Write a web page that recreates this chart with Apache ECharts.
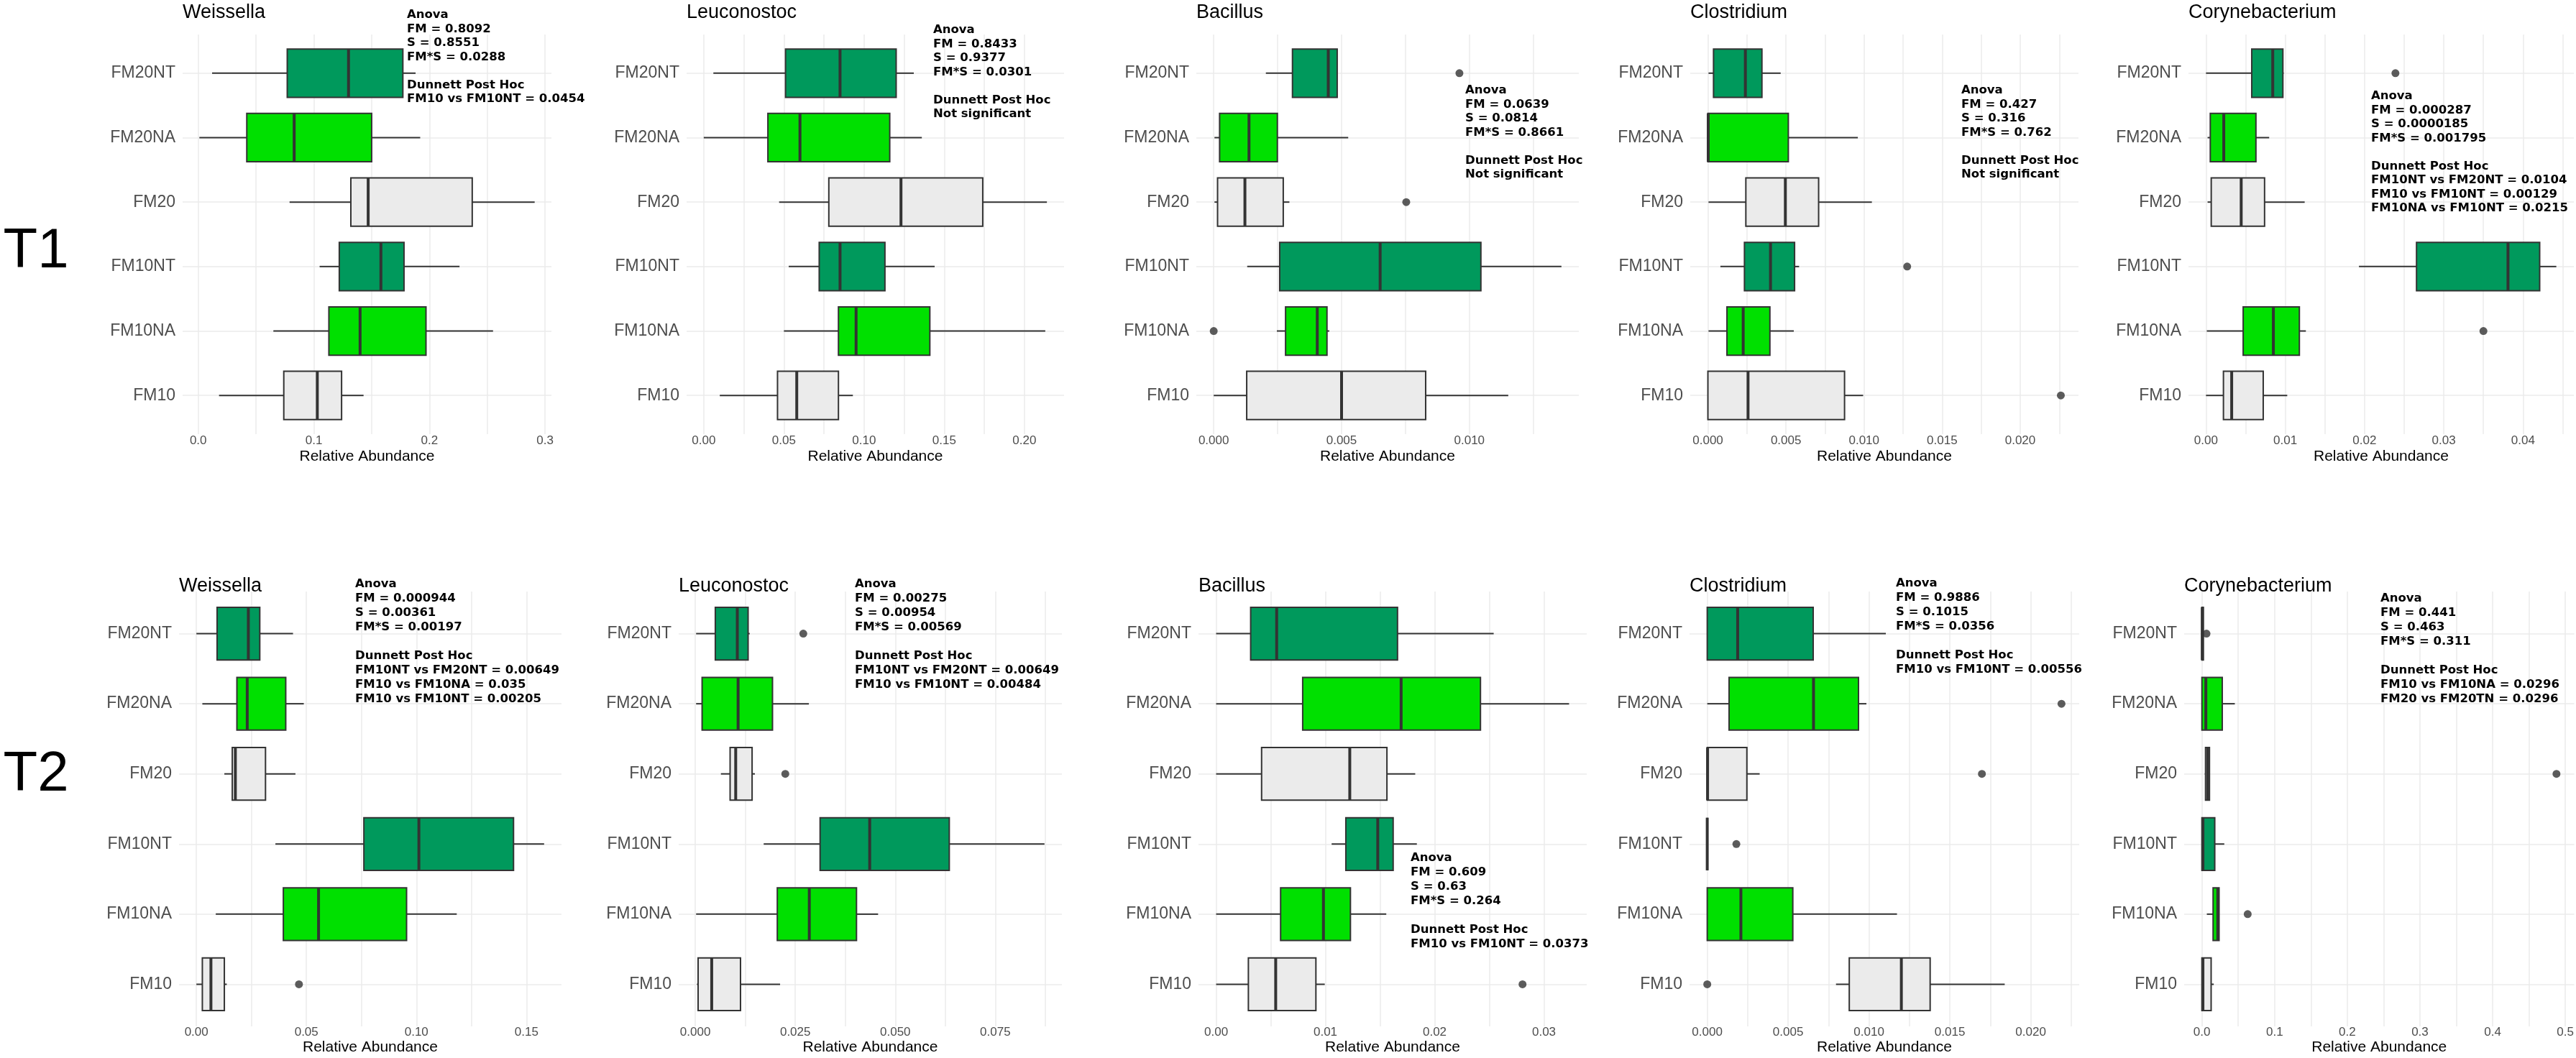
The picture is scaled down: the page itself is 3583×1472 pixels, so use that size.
<!DOCTYPE html>
<html>
<head>
<meta charset="utf-8">
<script src="https://cdn.jsdelivr.net/npm/echarts@6/dist/echarts.min.js"></script>
<style>
  html, body { margin: 0; padding: 0; background: #fff; }
  #chart { width: 3583px; height: 1472px; }
</style>
</head>
<body>
<div id="chart"></div>
<script>
// Groups, listed top to bottom as in the figure.
var groups = ["FM20NT", "FM20NA", "FM20", "FM10NT", "FM10NA", "FM10"];
var groupFill = ["#00995C", "#00E000", "#EBEBEB", "#00995C", "#00E000", "#EBEBEB"];
var genera = ["Weissella", "Leuconostoc", "Bacillus", "Clostridium", "Corynebacterium"];
var times = ["T1", "T2"];

// Box stats per group: [lower whisker, Q1, median, Q3, upper whisker]
var t1Weissella = [
  [0.012, 0.077, 0.130, 0.177, 0.188],
  [0.001, 0.042, 0.083, 0.150, 0.192],
  [0.079, 0.132, 0.147, 0.237, 0.291],
  [0.105, 0.122, 0.158, 0.178, 0.226],
  [0.065, 0.113, 0.140, 0.197, 0.255],
  [0.018, 0.074, 0.103, 0.124, 0.143]
];
var t1Leuconostoc = [
  [0.006, 0.051, 0.085, 0.120, 0.131],
  [0.000, 0.040, 0.060, 0.116, 0.136],
  [0.047, 0.078, 0.123, 0.174, 0.214],
  [0.053, 0.072, 0.085, 0.113, 0.144],
  [0.050, 0.084, 0.095, 0.141, 0.213],
  [0.010, 0.046, 0.058, 0.084, 0.093]
];
var t1Bacillus = [
  [0.00204, 0.00308, 0.00448, 0.00483, 0.00483],
  [0.00003, 0.00023, 0.00138, 0.00249, 0.00526],
  [0.00003, 0.00015, 0.00122, 0.00272, 0.00296],
  [0.00131, 0.00258, 0.00651, 0.01045, 0.01360],
  [0.00247, 0.00281, 0.00405, 0.00443, 0.00452],
  [0.00000, 0.00129, 0.00500, 0.00829, 0.01152]
];
var t1Clostridium = [
  [0.00004, 0.00036, 0.00240, 0.00346, 0.00466],
  [0.00000, 0.00000, 0.00002, 0.00515, 0.00960],
  [0.00004, 0.00243, 0.00496, 0.00709, 0.01050],
  [0.00080, 0.00234, 0.00401, 0.00555, 0.00584],
  [0.00004, 0.00122, 0.00226, 0.00397, 0.00550],
  [0.00000, 0.00000, 0.00257, 0.00875, 0.00994]
];
var t1Corynebacterium = [
  [0.0000, 0.00577, 0.00842, 0.0097, 0.0098],
  [0.0002, 0.00054, 0.00224, 0.0063, 0.00797],
  [0.0002, 0.00066, 0.00444, 0.00739, 0.01245],
  [0.0193, 0.02656, 0.0381, 0.0421, 0.0442],
  [0.0001, 0.00469, 0.0085, 0.01178, 0.0126],
  [0.0000, 0.0022, 0.00324, 0.00722, 0.01025]
];
var t2Weissella = [
  [0.0000, 0.0094, 0.0236, 0.0288, 0.0439],
  [0.0027, 0.0184, 0.0231, 0.0406, 0.0488],
  [0.0127, 0.0163, 0.0177, 0.0314, 0.0450],
  [0.0359, 0.0761, 0.1011, 0.1441, 0.1580],
  [0.0088, 0.0395, 0.0555, 0.0955, 0.1183],
  [0.0000, 0.0027, 0.0066, 0.0127, 0.0138]
];
var t2Leuconostoc = [
  [0.0002, 0.0050, 0.0105, 0.0132, 0.0136],
  [0.0002, 0.0017, 0.0107, 0.0193, 0.0284],
  [0.0064, 0.0087, 0.0101, 0.0142, 0.0149],
  [0.0171, 0.0312, 0.0436, 0.0635, 0.0873],
  [0.0002, 0.0205, 0.0285, 0.0403, 0.0457],
  [0.0004, 0.0007, 0.0041, 0.0113, 0.0212]
];
var t2Bacillus = [
  [0.0000, 0.00316, 0.00554, 0.0166, 0.0254],
  [0.0000, 0.00792, 0.01693, 0.02419, 0.0323],
  [0.0000, 0.00416, 0.01223, 0.01563, 0.01822],
  [0.01057, 0.01187, 0.01479, 0.0162, 0.01837],
  [0.0000, 0.0059, 0.00982, 0.01229, 0.01557],
  [0.0000, 0.00295, 0.00545, 0.00913, 0.00994]
];
var t2Clostridium = [
  [0.0000, 0.0000, 0.00188, 0.00655, 0.01104],
  [0.0000, 0.00135, 0.00657, 0.00935, 0.00984],
  [0.0000, 0.0000, 0.00002, 0.00245, 0.00324],
  [0.0000, 0.0000, 0.0000, 0.0000, 0.0000],
  [0.0000, 0.0000, 0.00208, 0.00529, 0.01173],
  [0.00796, 0.00878, 0.0120, 0.01378, 0.01839]
];
var t2Corynebacterium = [
  [0.0000, 0.0000, 0.0005, 0.0020, 0.0020],
  [0.0000, 0.0000, 0.0054, 0.0280, 0.0453],
  [0.0040, 0.0050, 0.0080, 0.0104, 0.0104],
  [0.0000, 0.0000, 0.0014, 0.0177, 0.0308],
  [0.0068, 0.0154, 0.0218, 0.0236, 0.0236],
  [0.0000, 0.0000, 0.0014, 0.0127, 0.0163]
];

// Outliers: [group, value]
var t1Outliers = [
  [],
  [],
  [["FM20NT", 0.00961], ["FM20", 0.00753], ["FM10NA", 0.0]],
  [["FM10NT", 0.01276], ["FM10", 0.0226]],
  [["FM20NT", 0.0239], ["FM10NA", 0.035]]
];
var t2Outliers = [
  [["FM10", 0.0466]],
  [["FM20NT", 0.027], ["FM20", 0.0225]],
  [["FM10", 0.02804]],
  [["FM20NA", 0.0219], ["FM20", 0.01698], ["FM10NT", 0.0018], ["FM10", 0.0]],
  [["FM20NT", 0.0063], ["FM20", 0.4878], ["FM10NA", 0.063]]
];

// Tick labels of each x axis
var t1Ticks = [
  ["0.0", "0.1", "0.2", "0.3"],
  ["0.00", "0.05", "0.10", "0.15", "0.20"],
  ["0.000", "0.005", "0.010"],
  ["0.000", "0.005", "0.010", "0.015", "0.020"],
  ["0.00", "0.01", "0.02", "0.03", "0.04"]
];
var t2Ticks = [
  ["0.00", "0.05", "0.10", "0.15"],
  ["0.000", "0.025", "0.050", "0.075"],
  ["0.00", "0.01", "0.02", "0.03"],
  ["0.000", "0.005", "0.010", "0.015", "0.020"],
  ["0.0", "0.1", "0.2", "0.3", "0.4", "0.5"]
];

// Statistics notes
var t1Notes = [
  ["Anova", "FM = 0.8092", "S = 0.8551", "FM*S = 0.0288", "", "Dunnett Post Hoc", "FM10 vs FM10NT = 0.0454"],
  ["Anova", "FM = 0.8433", "S = 0.9377", "FM*S = 0.0301", "", "Dunnett Post Hoc", "Not significant"],
  ["Anova", "FM = 0.0639", "S = 0.0814", "FM*S = 0.8661", "", "Dunnett Post Hoc", "Not significant"],
  ["Anova", "FM = 0.427", "S = 0.316", "FM*S = 0.762", "", "Dunnett Post Hoc", "Not significant"],
  ["Anova", "FM = 0.000287", "S = 0.0000185", "FM*S = 0.001795", "", "Dunnett Post Hoc",
   "FM10NT vs FM20NT = 0.0104", "FM10 vs FM10NT = 0.00129", "FM10NA vs FM10NT = 0.0215"]
];
var t2Notes = [
  ["Anova", "FM = 0.000944", "S = 0.00361", "FM*S = 0.00197", "", "Dunnett Post Hoc",
   "FM10NT vs FM20NT = 0.00649", "FM10 vs FM10NA = 0.035", "FM10 vs FM10NT = 0.00205"],
  ["Anova", "FM = 0.00275", "S = 0.00954", "FM*S = 0.00569", "", "Dunnett Post Hoc",
   "FM10NT vs FM20NT = 0.00649", "FM10 vs FM10NT = 0.00484"],
  ["Anova", "FM = 0.609", "S = 0.63", "FM*S = 0.264", "", "Dunnett Post Hoc", "FM10 vs FM10NT = 0.0373"],
  ["Anova", "FM = 0.9886", "S = 0.1015", "FM*S = 0.0356", "", "Dunnett Post Hoc", "FM10 vs FM10NT = 0.00556"],
  ["Anova", "FM = 0.441", "S = 0.463", "FM*S = 0.311", "", "Dunnett Post Hoc",
   "FM10 vs FM10NA = 0.0296", "FM20 vs FM20TN = 0.0296"]
];

var boxes = [
  [t1Weissella, t1Leuconostoc, t1Bacillus, t1Clostridium, t1Corynebacterium],
  [t2Weissella, t2Leuconostoc, t2Bacillus, t2Clostridium, t2Corynebacterium]
];
var outliers = [t1Outliers, t2Outliers];
var ticks = [t1Ticks, t2Ticks];
var notes = [t1Notes, t2Notes];

// Layout (pixels)
var rowPanel = [
  { top: 48, height: 556, titleTop: 4, labelMargin: 1, nameGap: 21, rowLabelY: 350, noteLine: 19.5 },
  { top: 823, height: 605, titleTop: 802, labelMargin: 0, nameGap: 19, rowLabelY: 1078, noteLine: 20 }
];
var colLeft = [[254, 955, 1664, 2351, 3044], [249, 944, 1667, 2350, 3038]];
var colWidth = [[513, 525, 532, 540, 536], [532, 533, 540, 542, 543]];
var notePos = [
  [[566, 11], [1298, 32], [2038, 116], [2728, 116], [3298, 124]],
  [[494, 803], [1189, 803], [1962, 1184], [2637, 802], [3311, 823]]
];

var SANS = "'Liberation Sans', Arial, sans-serif";
var LINE = "#333333";
var GRID = "#EBEBEB";

function renderBox(params, api) {
  var y = api.value(0);
  var lo = api.coord([api.value(1), y]);
  var q1 = api.coord([api.value(2), y]);
  var md = api.coord([api.value(3), y]);
  var q3 = api.coord([api.value(4), y]);
  var hi = api.coord([api.value(5), y]);
  var h = api.size([0, 0.75], [api.value(3), y])[1];
  var fill = groupFill[params.dataIndex];
  return {
    type: "group",
    children: [
      { type: "line", shape: { x1: lo[0], y1: lo[1], x2: q1[0], y2: q1[1] },
        style: { stroke: LINE, lineWidth: 2 } },
      { type: "line", shape: { x1: q3[0], y1: q3[1], x2: hi[0], y2: hi[1] },
        style: { stroke: LINE, lineWidth: 2 } },
      { type: "rect", shape: { x: q1[0], y: q1[1] - h / 2, width: q3[0] - q1[0], height: h },
        style: { fill: fill, stroke: LINE, lineWidth: 2 } },
      { type: "line", shape: { x1: md[0], y1: md[1] - h / 2, x2: md[0], y2: md[1] + h / 2 },
        style: { stroke: LINE, lineWidth: 4 } }
    ]
  };
}

var grids = [], xAxes = [], yAxes = [], series = [], titles = [], graphics = [];

for (var r = 0; r < 2; r++) {
  graphics.push({
    type: "text", x: 50, y: rowPanel[r].rowLabelY,
    style: { text: times[r], font: "78px " + SANS, fill: "#000", align: "center", verticalAlign: "middle" }
  });
  for (var c = 0; c < 5; c++) {
    var k = r * 5 + c;
    var stats = boxes[r][c];
    var outs = outliers[r][c];
    var labels = ticks[r][c];

    // ggplot-style range: data extent padded by 5% on each side
    var vals = [];
    stats.forEach(function (s) { vals.push(s[0], s[4]); });
    outs.forEach(function (o) { vals.push(o[1]); });
    var lo = Math.min.apply(null, vals);
    var hi = Math.max.apply(null, vals);
    var pad = (hi - lo) * 0.05;
    var xMin = lo - pad, xMax = hi + pad;

    var tickVals = labels.map(Number);
    var half = (tickVals[1] - tickVals[0]) / 2;
    var gridVals = [];
    for (var g = Math.ceil(xMin / half - 1e-9); g * half <= xMax + 1e-12; g++) {
      gridVals.push(+(g * half).toFixed(8));
    }

    grids.push({ left: colLeft[r][c], top: rowPanel[r].top, width: colWidth[r][c], height: rowPanel[r].height });

    xAxes.push({
      type: "value", gridIndex: k, min: xMin, max: xMax,
      name: "Relative Abundance", nameLocation: "middle", nameGap: rowPanel[r].nameGap,
      nameTextStyle: { color: "#000", fontSize: 21, fontFamily: SANS },
      axisLine: { show: false },
      axisTick: { show: false, customValues: gridVals },
      axisLabel: {
        customValues: tickVals, color: "#4D4D4D", fontSize: 17, fontFamily: SANS,
        margin: rowPanel[r].labelMargin,
        formatter: (function (lab) {
          return function (v) {
            for (var i = 0; i < lab.length; i++) {
              if (Math.abs(Number(lab[i]) - v) < 1e-9) return lab[i];
            }
            return "";
          };
        })(labels)
      },
      splitLine: { show: true, lineStyle: { color: GRID, width: 1.5 } }
    });

    yAxes.push({
      type: "value", gridIndex: k, min: 0.4, max: 6.6,
      axisLine: { show: false },
      axisTick: { show: false, customValues: [1, 2, 3, 4, 5, 6] },
      axisLabel: {
        customValues: [1, 2, 3, 4, 5, 6], color: "#4D4D4D", fontSize: 23, fontFamily: SANS, margin: 10,
        formatter: function (v) { return groups[6 - Math.round(v)]; }
      },
      splitLine: { show: true, lineStyle: { color: GRID, width: 1.5 } }
    });

    series.push({
      type: "custom", xAxisIndex: k, yAxisIndex: k,
      renderItem: renderBox,
      encode: { x: [1, 2, 3, 4, 5], y: 0 },
      data: stats.map(function (s, i) { return [6 - i].concat(s); }),
      z: 2
    });

    series.push({
      type: "scatter", xAxisIndex: k, yAxisIndex: k,
      symbol: "circle", symbolSize: 11,
      itemStyle: { color: LINE },
      data: outs.map(function (o) { return [o[1], 6 - groups.indexOf(o[0])]; }),
      z: 3
    });

    titles.push({
      text: genera[c], left: colLeft[r][c], top: rowPanel[r].titleTop, padding: 0,
      textStyle: { color: "#000", fontSize: 27, fontWeight: "normal", fontFamily: SANS }
    });

    graphics.push({
      type: "text", x: notePos[r][c][0], y: notePos[r][c][1],
      style: {
        text: notes[r][c].join("\n"), font: "bold 16.5px 'DejaVu Sans'", lineHeight: rowPanel[r].noteLine,
        fill: "#000", align: "left", verticalAlign: "top"
      },
      z: 10
    });
  }
}

var chart = echarts.init(document.getElementById("chart"));
chart.setOption({
  animation: false,
  backgroundColor: "#fff",
  title: titles,
  grid: grids,
  xAxis: xAxes,
  yAxis: yAxes,
  series: series,
  graphic: graphics
});
</script>
</body>
</html>
